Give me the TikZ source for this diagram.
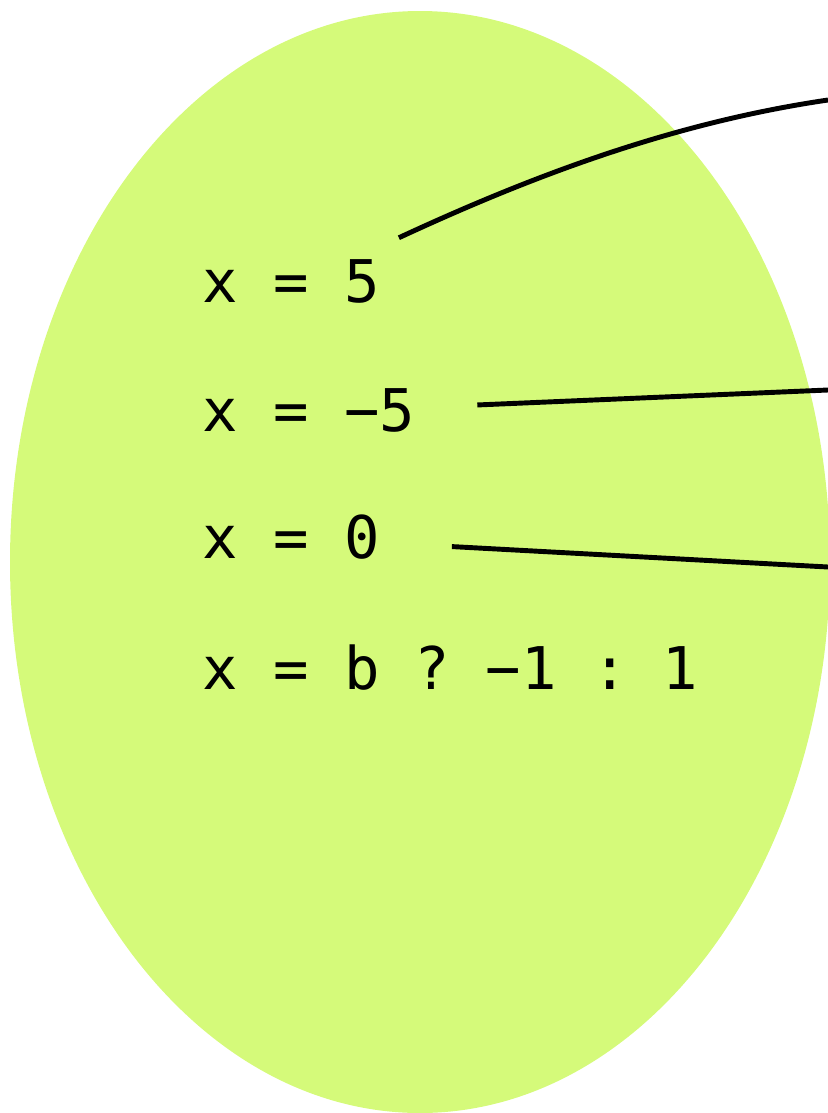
\documentclass[tikz,border=0pt]{standalone}
\usepackage{fontspec}
\setmonofont{DejaVu Sans Mono}
\usetikzlibrary{positioning}

\definecolor{setgreen}{RGB}{213,250,122}

\tikzset{
	stmt/.style={font=\ttfamily\fontsize{33.5}{33.5}\selectfont, inner sep=0pt, anchor=base west},
	link/.style={draw=black, line width=2.8pt},
}

\begin{document}
\begin{tikzpicture}[x=0.02cm, y=-0.02cm]
		\useasboundingbox (0, 0) rectangle (828, 1113);

		\fill[setgreen] (420, 562) ellipse [x radius=410, y radius=551];

		\node[stmt] (S1) at (202, 302) {x = 5};
		\node[stmt] (S2) at (202, 431) {x = −5};
		\node[stmt] (S3) at (202, 558) {x = 0};
		\node[stmt] (S4) at (202, 689) {x = b ? −1 : 1};

		\coordinate (E1) at (828, 100);
		\coordinate (E2) at (828, 390);
		\coordinate (E3) at (828, 567);

		\draw[link] ([shift={(19, -21)}]S1.north east) .. controls +(140, -65) and +(-150, 22) .. (E1);
		\draw[link] ([shift={(62, -5)}]S2.east) -- (E2);
		\draw[link] ([shift={(72, 10)}]S3.east) -- (E3);
	\end{tikzpicture}
\end{document}
